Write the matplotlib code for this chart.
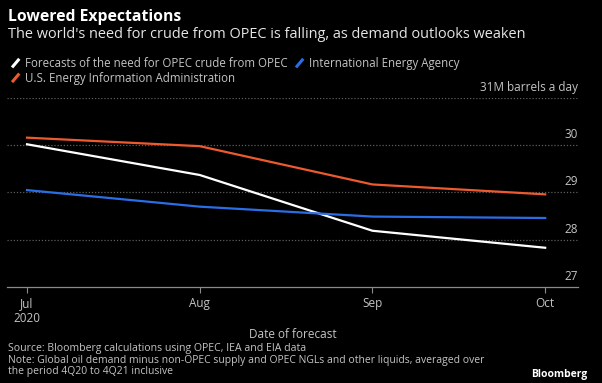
"""
Lowered Expectations - OPEC crude demand forecasts (Bloomberg style)
"""

import matplotlib
matplotlib.use('Agg')
import matplotlib.pyplot as plt
import matplotlib.transforms as mtransforms
from matplotlib.legend_handler import HandlerBase
from matplotlib.lines import Line2D

plt.rcParams['font.family'] = ['Open Sans', 'DejaVu Sans']

# data (million barrels a day)
months = ['Jul', 'Aug', 'Sep', 'Oct']
month_labels = ['Jul\n2020', 'Aug', 'Sep', 'Oct']
opec = [30.02, 29.37, 28.19, 27.83]
iea = [29.05, 28.70, 28.49, 28.46]
eia = [30.16, 29.98, 29.17, 28.96]

y_ticks = [27, 28, 29, 30, 31]
y_labels = ['27', '28', '29', '30', '31M barrels a day']

BG = '#000000'
WHITE = '#ffffff'
BLUE = '#2a6ee6'
ORANGE = '#ec5a2e'
GRID = '#5e5e5e'
TXT = '#c4c4c4'


class SlashHandler(HandlerBase):
    # short diagonal stroke like the Bloomberg legend keys
    def create_artists(self, legend, orig_handle, xdescent, ydescent,
                       width, height, fontsize, trans):
        x0 = -xdescent + width * 0.15
        x1 = -xdescent + width * 0.85
        y0 = -ydescent + height * 0.05
        y1 = -ydescent + height * 0.95
        ln = Line2D([x0, x1], [y0, y1], color=orig_handle.get_color(),
                    lw=2.2, solid_capstyle='butt', transform=trans)
        return [ln]


fig = plt.figure(figsize=(6.02, 3.83), dpi=100, facecolor=BG)
ax = fig.add_axes([0.0116, 0.2507, 0.9485, 0.4935], facecolor=BG)

x = list(range(len(months)))
l_opec, = ax.plot(x, opec, color=WHITE, lw=1.6,
                  label='Forecasts of the need for OPEC crude from OPEC')
l_iea, = ax.plot(x, iea, color=BLUE, lw=1.6,
                 label='International Energy Agency')
l_eia, = ax.plot(x, eia, color=ORANGE, lw=1.6,
                 label='U.S. Energy Information Administration')

ax.set_xlim(-0.116, 3.19)
ax.set_ylim(27, 31)

# dotted grid lines (not on the baseline)
for v in y_ticks[1:]:
    ax.axhline(v, color=GRID, lw=0.9, ls=(0, (1, 1.5)), zorder=0)

for s in ['top', 'right', 'left']:
    ax.spines[s].set_visible(False)
ax.spines['bottom'].set_color('#8a8a8a')
ax.spines['bottom'].set_linewidth(0.9)

ax.set_yticks([])
ax.set_xticks(x)
ax.set_xticklabels(month_labels, color=TXT, fontsize=8.5, linespacing=1.25)
ax.tick_params(axis='x', colors='#8a8a8a', length=4, width=0.8, pad=3,
               labelcolor=TXT)

# y labels sit right-aligned just above their grid line
trans = mtransforms.blended_transform_factory(ax.transAxes, ax.transData)
off = mtransforms.offset_copy(trans, fig=fig, x=0, y=3, units='points')
for v, lab in zip(y_ticks, y_labels):
    ax.text(1.0, v, lab, transform=off, ha='right', va='bottom',
            color=TXT, fontsize=8.5)

ax.set_xlabel('Date of forecast', color=TXT, fontsize=8.5, labelpad=2)

# titles
fig.text(0.013, 0.955, 'Lowered Expectations', color=WHITE, fontsize=11.3,
         fontweight='bold', va='center', ha='left')
fig.text(0.013, 0.911,
         "The world's need for crude from OPEC is falling, as demand outlooks weaken",
         color='#e6e6e6', fontsize=10.45, va='center', ha='left')

leg = fig.legend(handles=[l_opec, l_eia, l_iea], ncol=2,
                 loc='upper left', bbox_to_anchor=(0.004, 0.872),
                 frameon=False, fontsize=8.3, labelcolor=TXT,
                 handlelength=0.9, handleheight=0.9, handletextpad=0.35,
                 columnspacing=0.6, labelspacing=0.15, borderpad=0.2,
                 handler_map={Line2D: SlashHandler()})

# footer
fig.text(0.013, 0.091, 'Source: Bloomberg calculations using OPEC, IEA and EIA data',
         color=TXT, fontsize=7.6, va='center', ha='left')
fig.text(0.013, 0.060,
         'Note: Global oil demand minus non-OPEC supply and OPEC NGLs and other liquids, averaged over',
         color=TXT, fontsize=7.5, va='center', ha='left')
fig.text(0.013, 0.031, 'the period 4Q20 to 4Q21 inclusive',
         color=TXT, fontsize=7.5, va='center', ha='left')
fig.text(0.975, 0.021, 'Bloomberg', color=WHITE, fontsize=7.5,
         fontweight='bold', va='center', ha='right')

fig.savefig('out.png', dpi=100, facecolor=BG)
